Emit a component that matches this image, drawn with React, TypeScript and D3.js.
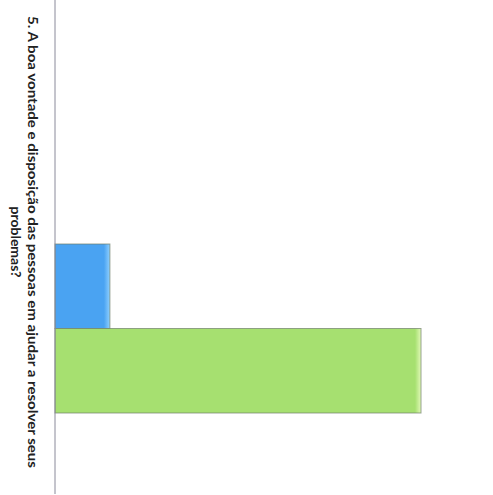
import React from "react";
import * as d3 from "d3";

const title = [
  "5. A boa vontade e disposição das pessoas em ajudar a resolver seus",
  "problemas?",
];
const series = ["Série A", "Série B"];
const values = [3, 20];
const colors = ["#4aa3f2", "#a6e070"];
const edgeColors = ["#8fd0ff", "#e2f9b8"];

const W = 493;
const H = 495;

export default function App() {
  const x = d3.scaleLinear().domain([0, 20]).range([55, 421]);
  const y = d3.scaleBand<string>().domain(series).range([244, 413]).paddingInner(0);
  return (
    <svg
      width={W}
      height={H}
      style={{ position: "absolute", left: 0, top: 0, background: "#fff" }}
      fontFamily="Lato, 'Open Sans', sans-serif"
    >
      <defs>
        {series.map((s, i) => {
          const w = x(values[i]) - x(0);
          return (
            <linearGradient key={s} id={`g${i}`} x1="0" x2="1" y1="0" y2="0">
              <stop offset="0" stopColor={colors[i]} />
              <stop offset={1 - 6 / w} stopColor={colors[i]} />
              <stop offset="1" stopColor={edgeColors[i]} />
            </linearGradient>
          );
        })}
      </defs>
      {series.map((s, i) => (
        <rect
          key={s}
          x={x(0)}
          y={y(s)!}
          width={x(values[i]) - x(0)}
          height={y.bandwidth()}
          fill={`url(#g${i})`}
          stroke="#6f7f6a"
          strokeOpacity={0.7}
          strokeWidth={1}
        />
      ))}
      <line x1={55} x2={55} y1={0} y2={494} stroke="#8a8a9a" strokeWidth={1} />
      {title.map((t, i) => (
        <text
          key={i}
          transform={`translate(${28 - i * 17},242) rotate(90)`}
          textAnchor="middle"
          fontSize={14}
          fontWeight="bold"
          fill="#222"
          textLength={i === 0 ? 452 : undefined}
          lengthAdjust="spacingAndGlyphs"
        >
          {t}
        </text>
      ))}
    </svg>
  );
}
